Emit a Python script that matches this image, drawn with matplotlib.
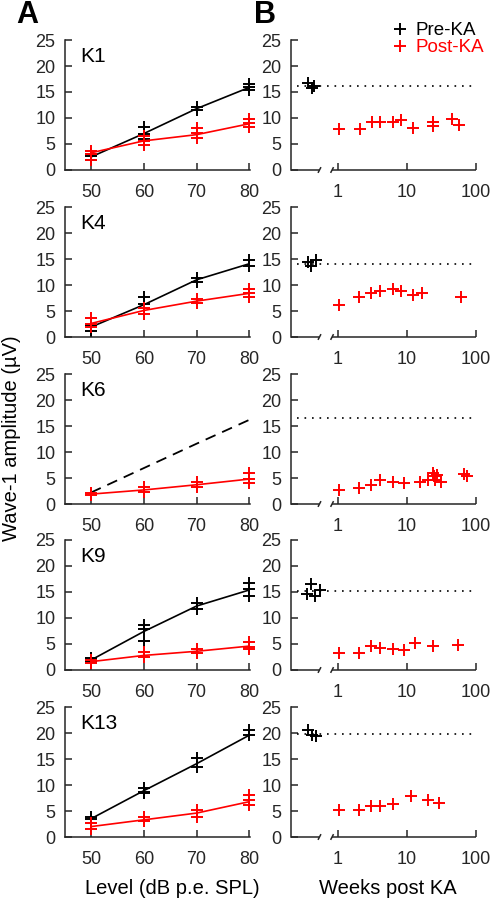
import matplotlib
matplotlib.use("Agg")
import matplotlib.pyplot as plt
from matplotlib.lines import Line2D

plt.rcParams["font.family"] = ["Liberation Sans", "DejaVu Sans"]

# ---- data ----
levels = [50, 60, 70, 80]
animals = ["K1", "K4", "K6", "K9", "K13"]

# panel A: individual points per level, plus mean line
k1_pre_pts = [[2.0, 2.6, 3.0], [8.3, 7.0, 6.0], [12.1, 11.6], [16.6, 15.9, 15.4]]
k1_pre_mean = [2.5, 7.0, 11.8, 15.9]
k1_post_pts = [[3.7, 3.1, 2.0], [6.6, 5.6, 4.8], [8.0, 7.1, 6.2], [9.8, 9.0, 8.2]]
k1_post_mean = [3.3, 5.6, 6.8, 8.9]

k4_pre_pts = [[2.4, 1.2], [7.6, 6.3], [11.4, 10.6], [14.8, 13.6]]
k4_pre_mean = [1.9, 6.2, 11.0, 14.1]
k4_post_pts = [[3.6, 2.5, 2.0], [5.6, 4.4], [7.3, 6.6], [9.2, 8.4, 7.6]]
k4_post_mean = [2.6, 5.1, 6.9, 8.4]

k6_pre_pts = None  # no pre-KA recording, only reference line
k6_pre_mean = [2.2, 6.9, 11.6, 16.2]
k6_post_pts = [[2.1, 1.7], [3.3, 2.4], [4.3, 3.3], [5.9, 4.9, 4.1]]
k6_post_mean = [1.9, 2.7, 3.7, 4.8]

k9_pre_pts = [[2.3, 1.6], [8.7, 7.9, 5.5], [12.9, 11.7], [16.8, 15.6, 14.2]]
k9_pre_mean = [1.9, 7.4, 12.3, 15.4]
k9_post_pts = [[1.9, 1.3], [3.5, 2.5], [4.1, 3.3], [5.3, 4.5, 4.1]]
k9_post_mean = [1.6, 2.8, 3.6, 4.6]

k13_pre_pts = [[3.8, 3.5], [9.4, 8.7, 8.4], [15.1, 13.5], [20.5, 19.6]]
k13_pre_mean = [3.5, 8.9, 14.1, 19.6]
k13_post_pts = [[2.7, 1.6], [3.8, 3.0], [5.2, 3.9], [8.1, 7.1, 6.2]]
k13_post_mean = [2.0, 3.3, 4.6, 6.8]

# panel B: 80 dB amplitude vs weeks post KA
k1_pre_wk = [0.375, 0.42, 0.45]
k1_pre_amp = [16.7, 15.7, 16.2]
k1_base = 16.1
k1_post_wk = [1.04, 2.1, 3.1, 4.1, 6.2, 8.2, 12.2, 24, 24, 45, 57]
k1_post_amp = [7.9, 7.9, 9.3, 9.2, 9.2, 9.6, 8.1, 9.2, 8.4, 9.9, 8.7]

k4_pre_wk = [0.375, 0.41, 0.485]
k4_pre_amp = [14.4, 13.6, 14.9]
k4_base = 14.1
k4_post_wk = [1.04, 2.06, 3.04, 4.1, 6.2, 8.2, 12.2, 16.5, 60]
k4_post_amp = [6.2, 7.6, 8.4, 8.9, 9.2, 8.9, 8.1, 8.4, 7.7]

k6_pre_wk = []
k6_pre_amp = []
k6_base = 16.5
k6_post_wk = [1.04, 2.06, 3.04, 4.1, 6.2, 8.95, 15.6, 19.9, 23.8, 24.9, 25.7, 27.2, 31.1, 66, 74]
k6_post_amp = [2.7, 3.0, 3.65, 4.6, 4.3, 4.0, 4.3, 4.7, 6.0, 5.4, 4.7, 5.6, 4.3, 5.8, 5.4]

k9_pre_wk = [0.355, 0.406, 0.47, 0.55]
k9_pre_amp = [14.7, 16.5, 14.3, 15.3]
k9_base = 15.1
k9_post_wk = [1.04, 2.06, 3.04, 4.1, 6.2, 8.95, 13.2, 23.8, 55.6]
k9_post_amp = [3.3, 3.3, 4.6, 4.2, 4.0, 3.9, 5.1, 4.7, 4.8]

k13_pre_wk = [0.367, 0.42, 0.485]
k13_pre_amp = [20.6, 19.7, 19.4]
k13_base = 19.9
k13_post_wk = [1.04, 2.06, 3.04, 4.1, 6.2, 11.4, 20.2, 29.4]
k13_post_amp = [5.2, 5.2, 6.05, 6.0, 6.4, 7.8, 7.1, 6.6]

panel_a = [
    (k1_pre_pts, k1_pre_mean, k1_post_pts, k1_post_mean),
    (k4_pre_pts, k4_pre_mean, k4_post_pts, k4_post_mean),
    (k6_pre_pts, k6_pre_mean, k6_post_pts, k6_post_mean),
    (k9_pre_pts, k9_pre_mean, k9_post_pts, k9_post_mean),
    (k13_pre_pts, k13_pre_mean, k13_post_pts, k13_post_mean),
]
panel_b = [
    (k1_pre_wk, k1_pre_amp, k1_base, k1_post_wk, k1_post_amp),
    (k4_pre_wk, k4_pre_amp, k4_base, k4_post_wk, k4_post_amp),
    (k6_pre_wk, k6_pre_amp, k6_base, k6_post_wk, k6_post_amp),
    (k9_pre_wk, k9_pre_amp, k9_base, k9_post_wk, k9_post_amp),
    (k13_pre_wk, k13_pre_amp, k13_base, k13_post_wk, k13_post_amp),
]

# ---- styling ----
W, H = 493, 900
ink = "#262626"
red = "#ff0000"
ms, mew = 8, 1.4
tick_fs = 13

fig = plt.figure(figsize=(W / 100, H / 100), dpi=100)


def add_axes_px(left, top, width, height):
    return fig.add_axes([left / W, 1 - (top + height) / H, width / W, height / H])


def style_axes(ax):
    for side in ("top", "right"):
        ax.spines[side].set_visible(False)
    for side in ("left", "bottom"):
        ax.spines[side].set_color(ink)
        ax.spines[side].set_linewidth(1.1)
    ax.tick_params(direction="in", length=5, width=1.1, colors=ink, labelsize=tick_fs)
    ax.tick_params(axis="x", pad=10)
    ax.tick_params(axis="y", pad=7)
    ax.set_ylim(0, 25)
    ax.set_yticks([0, 5, 10, 15, 20, 25])


tops = [40, 207, 374, 540, 707]
height = 130

for i, name in enumerate(animals):
    top = tops[i]

    # panel A
    ax = add_axes_px(65, top, 185, height)
    style_axes(ax)
    pre_pts, pre_mean, post_pts, post_mean = panel_a[i]

    if pre_pts is None:
        ax.plot(levels, pre_mean, color="k", lw=1.3, ls=(0, (6, 4)))
    else:
        for lvl, pts in zip(levels, pre_pts):
            ax.plot([lvl] * len(pts), pts, "+", color="k", ms=ms, mew=mew, clip_on=False)
        ax.plot(levels, pre_mean, color="k", lw=1.2)

    for lvl, pts in zip(levels, post_pts):
        ax.plot([lvl] * len(pts), pts, "+", color=red, ms=ms, mew=mew, clip_on=False)
    ax.plot(levels, post_mean, color=red, lw=1.2)

    ax.set_xlim(45.1, 80.1)
    ax.set_xticks(levels)
    ax.text(0.08, 0.83, name, transform=ax.transAxes, fontsize=15, color="k", va="baseline")

    # panel B
    bx = add_axes_px(291, top, 185, height)
    style_axes(bx)
    bx.set_xscale("log")
    bx.set_xlim(10 ** -0.677, 100)
    bx.set_xticks([1, 10, 100])
    bx.set_xticklabels(["1", "10", "100"])
    bx.xaxis.set_minor_locator(matplotlib.ticker.NullLocator())

    pre_wk, pre_amp, base, post_wk, post_amp = panel_b[i]
    bx.plot([0.255, 92], [base, base], color="k", lw=1.2, ls=(0, (1, 3.5)))
    if pre_wk:
        bx.plot(pre_wk, pre_amp, "+", color="k", ms=ms, mew=mew)
    bx.plot(post_wk, post_amp, "+", color=red, ms=ms, mew=mew)

    # broken x axis
    bx.spines["bottom"].set_visible(False)
    b1, b2 = 0.154, 0.222
    seg = dict(transform=bx.transAxes, color=ink, lw=1.1, clip_on=False, solid_capstyle="butt")
    bx.plot([0, b1], [0, 0], **seg)
    bx.plot([b2, 1], [0, 0], **seg)
    for bxp in (b1, b2):
        bx.plot([bxp - 0.008, bxp + 0.008], [-0.022, 0.022], **seg)

    if i == 0:
        handles = [
            Line2D([], [], ls="none", marker="+", color="k", ms=ms, mew=mew),
            Line2D([], [], ls="none", marker="+", color=red, ms=ms, mew=mew),
        ]
        leg = fig.legend(
            handles, ["Pre-KA", "Post-KA"],
            loc="upper left", bbox_to_anchor=(391 / W, 1 - 22 / H),
            frameon=False, fontsize=13.5, handlelength=1.0, handletextpad=0.3,
            labelspacing=0.0, borderpad=0, borderaxespad=0,
        )
        for txt, c in zip(leg.get_texts(), ["k", red]):
            txt.set_color(c)

# panel letters and axis labels
fig.text(16 / W, 1 - 23 / H, "A", fontsize=22, fontweight="bold", va="baseline", ha="left")
fig.text(254 / W, 1 - 23 / H, "B", fontsize=22, fontweight="bold", va="baseline", ha="left")
fig.text(12 / W, 1 - 438 / H, "Wave-1 amplitude (\u00b5V)", rotation=90, fontsize=14.5,
         ha="center", va="center")
fig.text(172 / W, 1 - 894 / H, "Level (dB p.e. SPL)", fontsize=14.5, ha="center", va="baseline")
fig.text(388 / W, 1 - 894 / H, "Weeks post KA", fontsize=14.5, ha="center", va="baseline")

fig.savefig("out.png", dpi=100)
